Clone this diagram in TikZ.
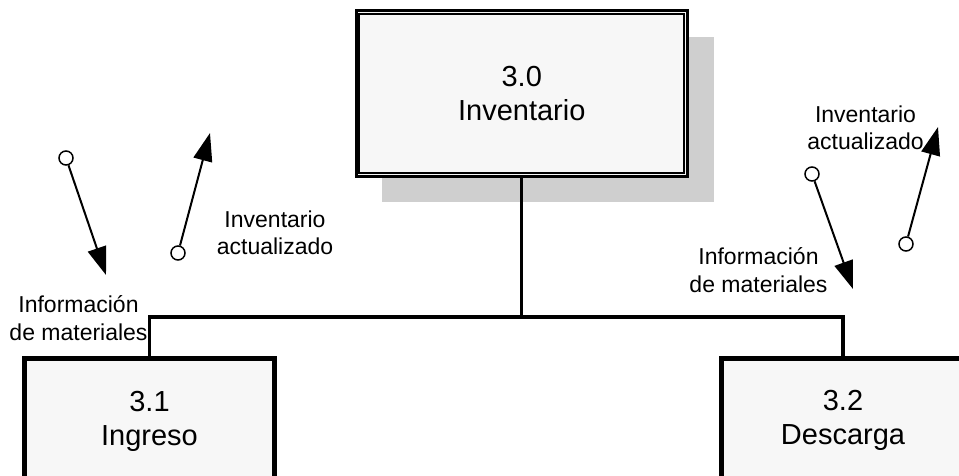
\documentclass[tikz,border=0pt]{standalone}
\usepackage{fontspec}
\setmainfont{Liberation Sans}
\usetikzlibrary{arrows.meta,shadows}
\definecolor{boxfill}{HTML}{F7F7F7}
\definecolor{shadowgray}{HTML}{CFCFCF}
\begin{document}
\begin{tikzpicture}[x=1pt,y=-1pt,
  boxtext/.style={font=\fontsize{29}{34.5}\selectfont, align=center},
  labeltext/.style={font=\fontsize{23}{27.5}\selectfont, align=center, inner sep=0pt},
  topbox/.style={draw, line width=3pt, fill=boxfill, boxtext, minimum width=331.5pt, minimum height=165.7pt, inner sep=0pt,
    drop shadow={shadow xshift=26pt, shadow yshift=-26pt, fill=shadowgray, opacity=1}},
  procbox/.style={draw, line width=5pt, fill=boxfill, boxtext, inner sep=0pt, anchor=north},
  conn/.style={line width=3.3pt},
  port/.style={circle, draw, fill=white, line width=1.5pt, minimum size=14pt, inner sep=0pt},
  flow/.style={line width=2pt, -{Triangle[length=28pt,width=19pt]}, shorten <=0pt}
]
\useasboundingbox (0,0) rectangle (959,476);

% top process
\node[topbox] (inv) at (521.75,93.65) {3.0\\Inventario};
\draw[line width=2pt] ([shift={(4.7,4.7)}]inv.north west) rectangle ([shift={(-4.7,-4.7)}]inv.south east);

% child processes
\node[procbox, minimum width=250pt, minimum height=126pt] (ing) at (149.5,356) {3.1\\Ingreso};
\node[procbox, minimum width=244pt, minimum height=124pt] (des) at (843,356) {3.2\\Descarga};

% tree connector
\coordinate (j) at (521.75,317);
\draw[conn] (inv.south) -- (j);
\draw[conn] (ing.north) |- (j) -| (des.north);

% left flows
\node[port] (c1) at (66,158) {};
\coordinate (t1) at (106,275);
\draw[flow] (c1) -- (t1);
\node[port] (c2) at (178,253) {};
\coordinate (t2) at (210,133);
\draw[flow] (c2) -- (t2);
\node[labeltext] (l1) at (78.5,318) {Información\\de materiales};
\node[labeltext] (l2) at (275,233) {Inventario\\actualizado};

% right flows
\node[port] (c3) at (812,174) {};
\coordinate (t3) at (853,289);
\draw[flow] (c3) -- (t3);
\node[port] (c4) at (906,244) {};
\coordinate (t4) at (938,127);
\draw[flow] (c4) -- (t4);
\node[labeltext] (l3) at (758.5,270) {Información\\de materiales};
\node[labeltext] (l4) at (865.5,128) {Inventario\\actualizado};
\end{tikzpicture}
\end{document}
